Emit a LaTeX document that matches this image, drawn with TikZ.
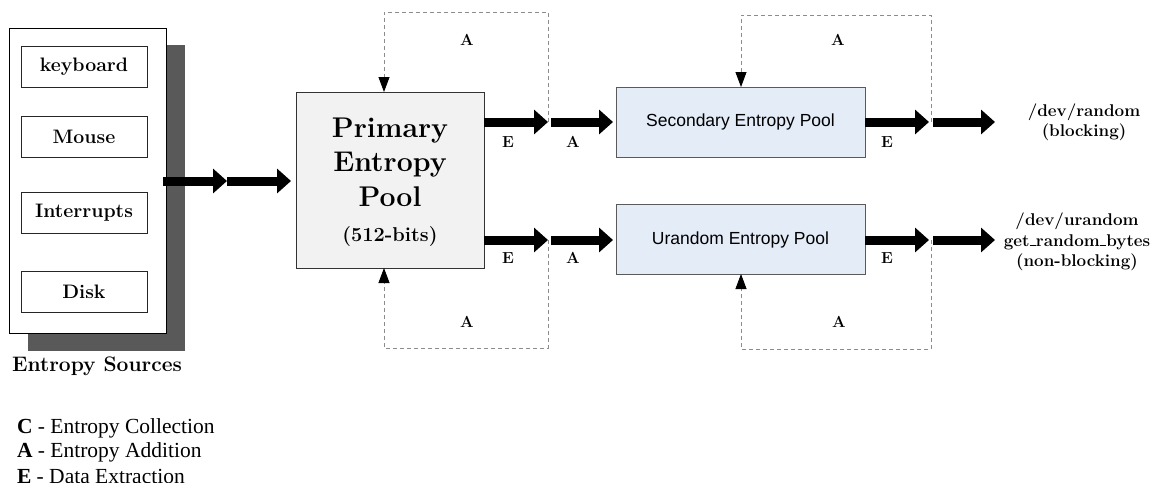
\documentclass[tikz,border=0pt]{standalone}
\usepackage{fontspec}
\newfontfamily\arialfont{Liberation Sans}
\newfontfamily\timesfont{Liberation Serif}
\usetikzlibrary{arrows.meta}
\definecolor{shadowgray}{RGB}{89,89,89}
\definecolor{primfill}{RGB}{242,242,242}
\definecolor{poolfill}{RGB}{228,236,247}
\definecolor{pooledge}{RGB}{90,90,90}
\definecolor{loopgray}{RGB}{140,140,140}
% short underscore for the kernel function name
\newcommand{\shortus}{\rule{0.38em}{0.07em}}
\begin{document}
\begin{tikzpicture}[x=1pt,y=-1pt,
  every node/.style={inner sep=0pt,outer sep=0pt},
  srcbox/.style={draw=black!85,line width=0.8pt,fill=white,
    minimum width=126pt,minimum height=41pt,
    font=\fontsize{19.5}{22}\selectfont\bfseries},
  poolbox/.style={draw=pooledge,line width=0.8pt,fill=poolfill,
    minimum width=249pt,minimum height=70pt,
    font=\arialfont\fontsize{17.5}{20}\selectfont},
  bigarrow/.style={line width=9pt,-{Triangle[length=14pt,width=24pt]}},
  loopline/.style={draw=loopgray,line width=0.8pt,dash pattern=on 4pt off 3pt},
  looptip/.style={loopline,-{Triangle[length=15pt,width=11pt,color=black,fill=black]}},
  tag/.style={font=\fontsize{16}{18}\selectfont\bfseries},
  outtxt/.style={align=center,font=\fontsize{17}{20.5}\selectfont\bfseries},
  legend/.style={anchor=west,font=\timesfont\fontsize{21.5}{24}\selectfont},
]
\useasboundingbox (0,0) rectangle (1153,482);

% entropy sources panel with its drop shadow
\node[fill=shadowgray,minimum width=157pt,minimum height=306pt,anchor=north west]
  (shadow) at (28,45) {};
\node[draw=black,line width=0.8pt,fill=white,minimum width=157pt,minimum height=305pt,
  anchor=north west] (src) at (9,28) {};
\node[srcbox] (kbd) at (84,66.5) {keyboard};
\node[srcbox] (mouse) at (84,136.5) {Mouse};
\node[srcbox] (irq) at (84,212.5) {Interrupts};
\node[srcbox] (disk) at (84,292) {Disk};
\node[font=\fontsize{21}{24}\selectfont\bfseries] (srclabel) at (97,366) {Entropy Sources};

% pools
\node[draw=black!80,line width=0.8pt,fill=primfill,minimum width=188pt,minimum height=176pt]
  (prim) at (390,180) {};
\node[align=center,font=\fontsize{28.5}{34.5}\selectfont\bfseries] (primtxt) at (390,162)
  {Primary\\Entropy\\Pool};
\node[font=\fontsize{20}{22}\selectfont\bfseries] (primbits) at (390,237) {(512-bits)};

\node[poolbox] (sec) at (740.5,122) {Secondary Entropy Pool};
\node[poolbox] (ura) at (740.5,239.5) {Urandom Entropy Pool};

% junction points between the arrows
\coordinate (cin) at (163,181);
\coordinate (cmid) at (227,181);
\coordinate (pt) at (548,122);
\coordinate (pb) at (548,240);
\coordinate (st) at (931,122);
\coordinate (sb) at (931,240);

% entropy collection into the primary pool
\draw[bigarrow] (cin) -- (cmid);
\draw[bigarrow] (cmid) -- ([xshift=-5pt]prim.west |- cmid);

% extraction from the primary pool, addition to the secondary pools
\draw[bigarrow] (prim.east |- pt) -- (pt);
\draw[bigarrow] ([xshift=3pt]pt) -- ([xshift=-3pt]sec.west |- pt);
\draw[bigarrow] (prim.east |- pb) -- (pb);
\draw[bigarrow] ([xshift=3pt]pb) -- ([xshift=-3pt]ura.west |- pb);

% extraction from the secondary pools
\draw[bigarrow] (sec.east |- st) -- ([xshift=-2pt]st);
\draw[bigarrow] ([xshift=2pt]st) -- ++(62,0) coordinate (rnd);
\draw[bigarrow] (ura.east |- sb) -- ([xshift=-2pt]sb);
\draw[bigarrow] ([xshift=2pt]sb) -- ++(62,0) coordinate (urnd);

% feedback loops (entropy added back)
\draw[looptip] (pt) -- (548,12) -- (384,12) -- (384,92);
\draw[looptip] (pb) -- (548,348) -- (384,348) -- (384,268);
\draw[looptip] (st) -- (931,15) -- (741,15) -- (741,87);
\draw[looptip] (sb) -- (931,349) -- (741,349) -- (741,274);

% arrow tags
\node[tag] (a1) at (467,40) {A};
\node[tag] (a2) at (467,322) {A};
\node[tag] (a3) at (838,40) {A};
\node[tag] (a4) at (839,322) {A};
\node[tag] (e1) at (508,142) {E};
\node[tag] (e2) at (508,258) {E};
\node[tag] (e3) at (887,142) {E};
\node[tag] (e4) at (887,258) {E};
\node[tag] (a5) at (573,142) {A};
\node[tag] (a6) at (573,258) {A};

% output interfaces
\node[outtxt] (devrandom) at (1084,122.5) {/dev/random\\(blocking)};
\node[outtxt] (devurandom) at (1077,242)
  {/dev/urandom\\get\shortus random\shortus bytes\\(non-blocking)};

% legend
\node[legend] (lgc) at (17,428) {{\bfseries C} - Entropy Collection};
\node[legend] (lga) at (17,452) {{\bfseries A} - Entropy Addition};
\node[legend] (lge) at (17,476) {{\bfseries E} - Data Extraction};
\end{tikzpicture}
\end{document}
